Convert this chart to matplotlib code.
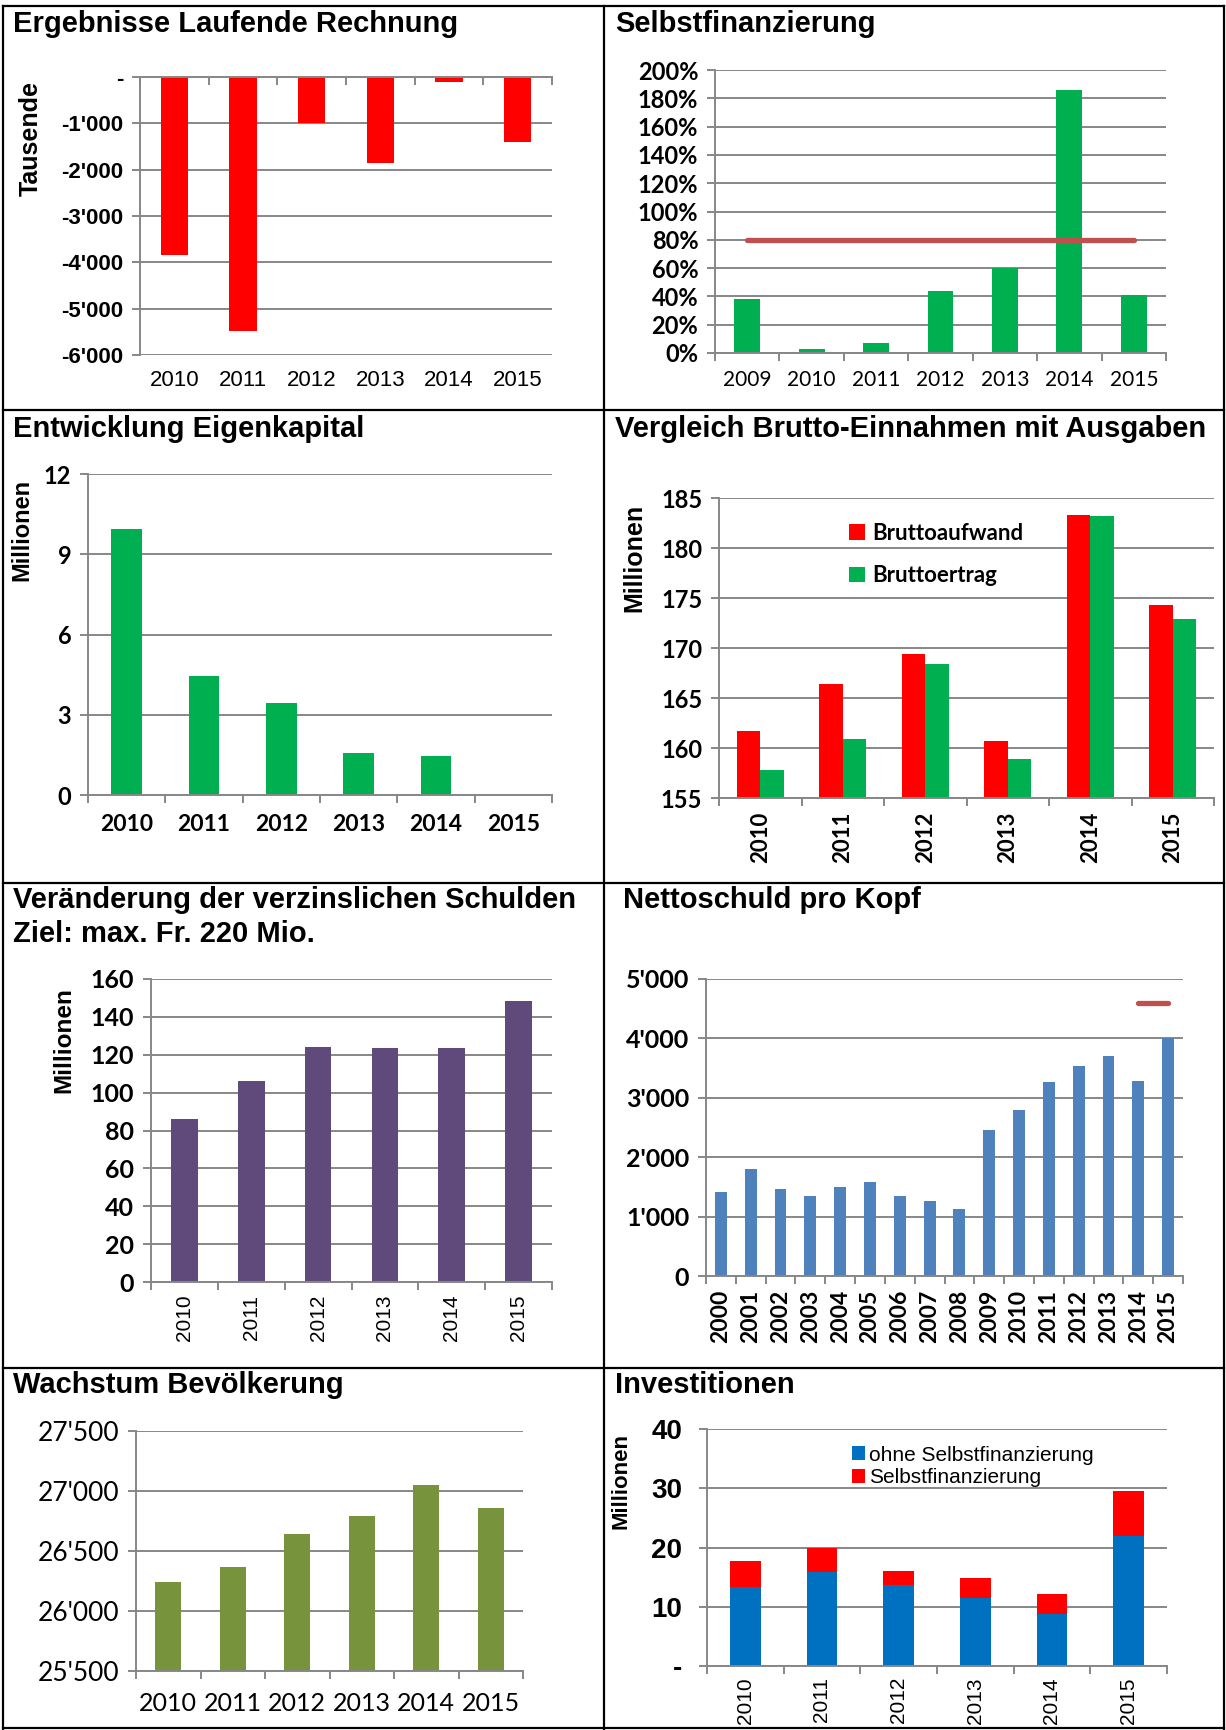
import numpy as np
import matplotlib
matplotlib.use("Agg")
from matplotlib import pyplot as plt

# ---- data ----
years = ['2010', '2011', '2012', '2013', '2014', '2015']

lr_values = [-3850, -5490, -1000, -1850, -115, -1400]          # Tausende

sf_years = ['2009', '2010', '2011', '2012', '2013', '2014', '2015']
sf_values = [38, 3, 7, 44, 60, 186, 41]                          # %
sf_target = [80, 80, 80, 80, 80, 80, 80]

ek_values = [9.94, 4.44, 3.43, 1.56, 1.44, 0]                    # Millionen

aufwand = [161.7, 166.4, 169.4, 160.7, 183.3, 174.3]
ertrag = [157.8, 160.9, 168.4, 158.9, 183.2, 172.9]

schulden = [86.2, 106.1, 124.0, 123.6, 123.4, 148.2]

ns_years = [str(y) for y in range(2000, 2016)]
ns_values = [1406, 1800, 1468, 1339, 1502, 1575, 1350, 1271, 1130,
             2452, 2790, 3273, 3543, 3712, 3290, 4000]
ns_target_pos = [14, 15]
ns_target = [4600, 4600]

bev_values = [26243, 26368, 26638, 26793, 27049, 26855]

inv_ohne = [13.3, 15.8, 13.7, 11.5, 8.8, 22.0]
inv_sf = [4.4, 4.1, 2.4, 3.4, 3.3, 7.5]

# ---- look ----
ARIAL = ['Liberation Sans', 'DejaVu Sans']
CAL = ['Lato', 'DejaVu Sans']
GRID = '#878787'
W, H = 1226, 1730

fig = plt.figure(figsize=(W / 100, H / 100), dpi=100)


def px_ax(l, t, r, b):
    return fig.add_axes([l / W, 1 - b / H, (r - l) / W, (b - t) / H])


def ftext(x, y, s, **kw):
    fig.text(x / W, 1 - y / H, s, **kw)


def title(x, y, s):
    ftext(x, y, s, fontsize=21, weight='bold', family=ARIAL, va='center')


def ylab(x, y, s, size=15.5):
    ftext(x, y, s, fontsize=size, weight='bold', family=ARIAL, rotation=90,
          ha='center', va='center')


def apo(v):
    return f"{v:,.0f}".replace(",", "'")


def style(ax, labels, ylim, yticks, ylabels, yfont, xfont, xpad, rot=0, ypad=6):
    n = len(labels)
    ax.set_xlim(-0.5, n - 0.5)
    ax.set_ylim(*ylim)
    ax.set_yticks(yticks)
    ax.set_yticklabels(ylabels, **yfont)
    ax.set_xticks(range(n))
    ax.set_xticklabels(labels, rotation=rot, **xfont)
    ax.set_xticks(np.arange(n + 1) - 0.5, minor=True)
    ax.grid(axis='y', color=GRID, lw=1.4)
    ax.set_axisbelow(True)
    for s in ['top', 'right']:
        ax.spines[s].set_visible(False)
    for s in ['left', 'bottom']:
        ax.spines[s].set_color(GRID)
        ax.spines[s].set_linewidth(1.4)
    ax.tick_params(axis='y', length=6, width=1.4, color=GRID, pad=ypad)
    ax.tick_params(axis='x', which='major', length=0, pad=xpad)
    ax.tick_params(axis='x', which='minor', length=6, width=1.4, color=GRID)
    ax.set_facecolor('none')


x6 = np.arange(len(years))

# 1 Ergebnisse Laufende Rechnung
ax = px_ax(140, 77, 552, 355)
ax.bar(x6, lr_values, width=0.4, color='#FF0000')
style(ax, years, (-6000, 0), range(-6000, 1, 1000),
      [apo(v) if v else '-' for v in range(-6000, 1, 1000)],
      dict(family=ARIAL, fontsize=16, weight='bold'),
      dict(family=ARIAL, fontsize=16), 11)
ax.spines['top'].set_visible(True)
ax.spines['top'].set_color(GRID)
ax.spines['top'].set_linewidth(1.4)
ax.spines['bottom'].set_visible(False)
ax.tick_params(axis='x', which='minor', bottom=False, top=True, direction='in')
title(13, 24, 'Ergebnisse Laufende Rechnung')
ylab(31, 138, 'Tausende', 18)

# 2 Selbstfinanzierung
ax = px_ax(715, 70, 1166, 353)
xs = np.arange(len(sf_years))
ax.bar(xs, sf_values, width=0.4, color='#00B050')
ax.plot(xs, sf_target, color='#C0504D', lw=3.8, solid_capstyle='round')
style(ax, sf_years, (0, 200), range(0, 201, 20),
      [f"{v}%" for v in range(0, 201, 20)],
      dict(family=CAL, fontsize=17, weight='bold'),
      dict(family=CAL, fontsize=15), 12)
title(615, 24, 'Selbstfinanzierung')

# 3 Entwicklung Eigenkapital
ax = px_ax(88, 474, 552, 795)
ax.bar(x6, ek_values, width=0.4, color='#00B050')
style(ax, years, (0, 12), range(0, 13, 3), [str(v) for v in range(0, 13, 3)],
      dict(family=CAL, fontsize=17, weight='bold'),
      dict(family=CAL, fontsize=16.5, weight='bold'), 14)
title(13, 429, 'Entwicklung Eigenkapital')
ylab(22, 530, 'Millionen', 17)

# 4 Vergleich Brutto-Einnahmen mit Ausgaben
ax = px_ax(719, 498, 1214, 798)
bw = 0.285
ax.bar(x6 - bw / 2, aufwand, width=bw, color='#FF0000', label='Bruttoaufwand')
ax.bar(x6 + bw / 2, ertrag, width=bw, color='#00B050', label='Bruttoertrag')
style(ax, years, (155, 185), range(155, 186, 5), [str(v) for v in range(155, 186, 5)],
      dict(family=CAL, fontsize=17, weight='bold'),
      dict(family=CAL, fontsize=16, weight='bold'), 10, rot=90)
ax.legend(loc='upper left', bbox_to_anchor=(829 / W, 1 - 503 / H),
          bbox_transform=fig.transFigure, frameon=False, handlelength=0.7,
          handleheight=0.7, handletextpad=0.35, labelspacing=0.95,
          prop=dict(family=CAL, size=16, weight='bold'))
title(615, 429, 'Vergleich Brutto-Einnahmen mit Ausgaben')
ylab(634, 558, 'Millionen', 18)

# 5 Veraenderung der verzinslichen Schulden
ax = px_ax(151, 979, 552, 1282)
ax.bar(x6, schulden, width=0.4, color='#604A7B')
style(ax, years, (0, 160), range(0, 161, 20), [str(v) for v in range(0, 161, 20)],
      dict(family=CAL, fontsize=18, weight='bold'),
      dict(family=ARIAL, fontsize=15), 9, rot=90)
title(13, 900, 'Veränderung der verzinslichen Schulden')
title(13, 934, 'Ziel: max. Fr. 220 Mio.')
ylab(64, 1040, 'Millionen', 17.5)

# 6 Nettoschuld pro Kopf
ax = px_ax(706, 979, 1183, 1276)
xn = np.arange(len(ns_years))
ax.bar(xn, ns_values, width=0.4, color='#4F81BD')
ax.plot(ns_target_pos, ns_target, color='#C0504D', lw=3.8, solid_capstyle='round')
style(ax, ns_years, (0, 5000), range(0, 5001, 1000),
      [apo(v) for v in range(0, 5001, 1000)],
      dict(family=CAL, fontsize=18, weight='bold'),
      dict(family=CAL, fontsize=16.5, weight='bold'), 10, rot=90)
title(623, 900, 'Nettoschuld pro Kopf')

# 7 Wachstum Bevoelkerung
ax = px_ax(136, 1431, 523, 1671)
ax.bar(x6, bev_values, width=0.4, color='#77933C')
style(ax, years, (25500, 27500), range(25500, 27501, 500),
      [apo(v) for v in range(25500, 27501, 500)],
      dict(family=CAL, fontsize=19),
      dict(family=CAL, fontsize=18), 15)
title(13, 1385, 'Wachstum Bevölkerung')

# 8 Investitionen
ax = px_ax(707, 1429, 1167, 1666)
ax.bar(x6, inv_ohne, width=0.4, color='#0070C0', label='ohne Selbstfinanzierung')
ax.bar(x6, inv_sf, width=0.4, bottom=inv_ohne, color='#FF0000', label='Selbstfinanzierung')
style(ax, years, (0, 40), range(0, 41, 10),
      [str(v) if v else '-' for v in range(0, 41, 10)],
      dict(family=ARIAL, fontsize=20, weight='bold'),
      dict(family=ARIAL, fontsize=15), 8, rot=90, ypad=12)
ax.legend(loc='upper left', bbox_to_anchor=(833 / W, 1 - 1427 / H),
          bbox_transform=fig.transFigure, frameon=False, handlelength=0.65,
          handleheight=0.65, handletextpad=0.2, labelspacing=0.15,
          prop=dict(family=ARIAL, size=15))
title(615, 1385, 'Investitionen')
ylab(621, 1481, 'Millionen', 16)

# ---- cell borders ----
for xx in (3, 604, 1224):
    fig.add_artist(plt.Line2D([xx / W] * 2, [0, 1 - 6 / H], transform=fig.transFigure,
                              color='black', lw=1.6))
for yy in (6, 410, 883, 1368, 1728):
    fig.add_artist(plt.Line2D([3 / W, 1224 / W], [1 - yy / H] * 2,
                              transform=fig.transFigure, color='black', lw=1.6))

fig.savefig('out.png', dpi=100, facecolor='white')
